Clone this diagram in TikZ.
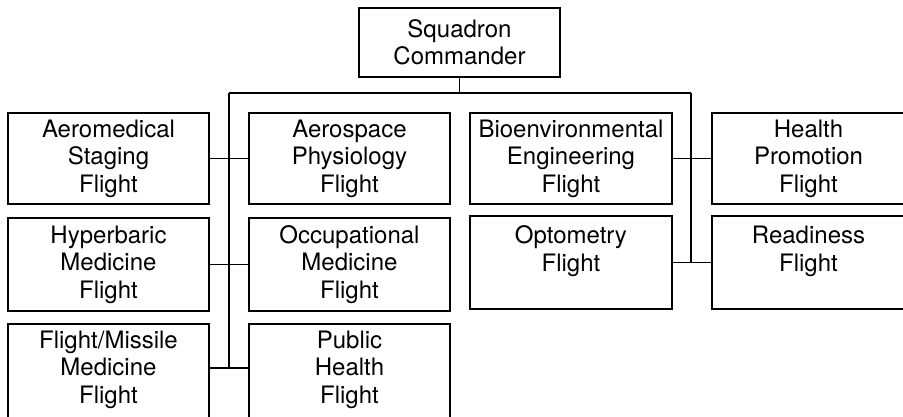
\documentclass[tikz,border=0pt]{standalone}
\usepackage{fontspec}
\setmainfont{TeX Gyre Heros}
\begin{document}
\begin{tikzpicture}[x=1pt,y=-1pt,
  box/.style={draw, line width=2pt, minimum width=201pt, minimum height=91pt, inner sep=0pt,
    align=center, font=\fontsize{24}{27.5}\selectfont},
  txt/.style={inner sep=0pt, align=center, font=\fontsize{24}{27.5}\selectfont},
  conn/.style={line width=1.8pt}]
\useasboundingbox (0,0) rectangle (903,417);
\clip (0,0) rectangle (903,417);
% boxes
\node[box, minimum height=69pt] (cmd) at (459.5,42.5) {Squadron\\Commander};
\node[box] (aero) at (108.5,158.5) {Aeromedical\\Staging\\Flight};
\node[box] (asp) at (349.5,158.5) {Aerospace\\Physiology\\Flight};
\node[box, minimum width=202pt] (bio) at (571,158.5) {Bioenvironmental\\Engineering\\Flight};
\node[box, minimum width=193pt] (hp) at (808.5,158.5) {Health\\Promotion\\Flight};
\node[box, minimum height=93pt] (hyp) at (108.5,264.5) {Hyperbaric\\Medicine\\Flight};
\node[box, minimum height=93pt] (occ) at (349.5,264.5) {Occupational\\Medicine\\Flight};
\node[box, minimum height=93pt, minimum width=202pt] (opt) at (571,262.5) {Optometry\\Flight\\\mbox{}};
\node[box, minimum height=93pt, minimum width=193pt] (rdy) at (808.5,262.5) {Readiness\\Flight\\\mbox{}};
\node[box, minimum height=95pt] (fm) at (108.5,371.5) {};
\node[txt] (fmt) at (108.5,369.5) {Flight/Missile\\Medicine\\Flight};
\node[box, minimum height=95pt] (ph) at (349.5,371.5) {};
\node[txt] (pht) at (349.5,369.5) {Public\\Health\\Flight};
% connector points
\coordinate (tl) at (229,93);
\coordinate (tr) at (691,93);
\coordinate (tm) at (cmd.south |- tl);
\coordinate (lb) at (229,368);
\coordinate (rb) at (691,262);
\draw[conn] (cmd.south) -- (tm);
\draw[conn] (tl) -- (tr);
\draw[conn] (tl) -- (lb);
\draw[conn] (tr) -- (rb);
\draw[conn] (aero.east) -- (asp.west);
\draw[conn] (hyp.east) -- (occ.west);
\draw[conn] (fm.east |- lb) -- (ph.west |- lb);
\draw[conn] (bio.east) -- (hp.west);
\draw[conn] (opt.east) -- (rdy.west);
\end{tikzpicture}
\end{document}
